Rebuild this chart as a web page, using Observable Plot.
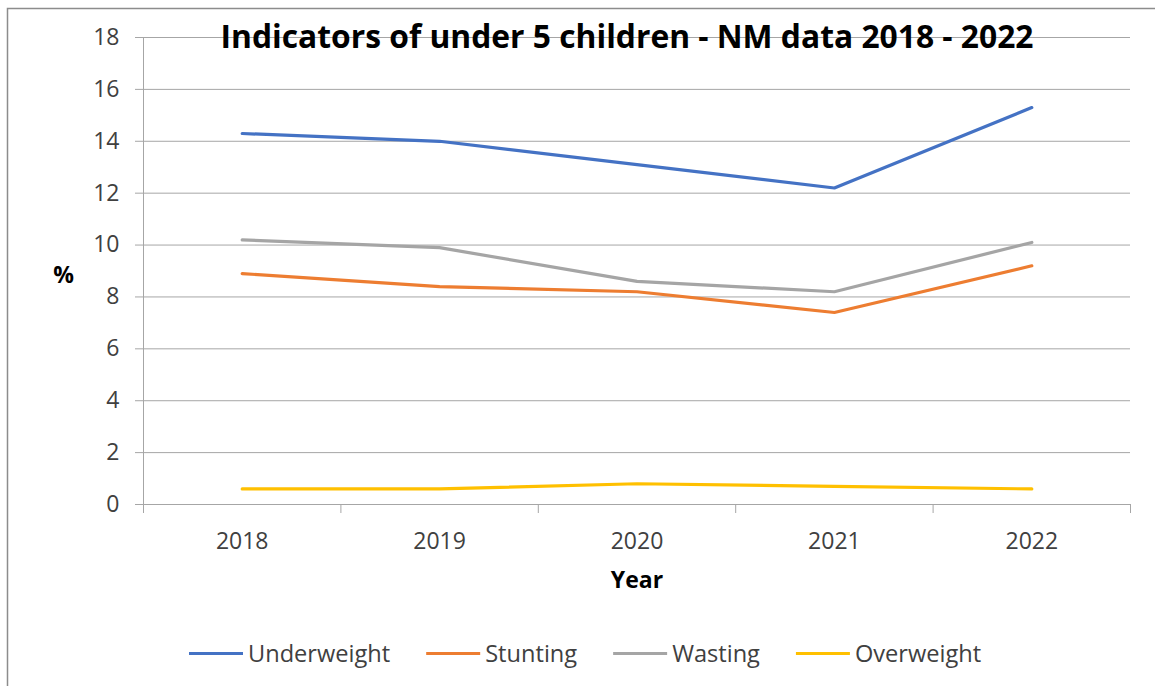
<!DOCTYPE html>
<html>
<head>
<meta charset="utf-8">
<script src="https://cdn.jsdelivr.net/npm/d3@7"></script>
<script src="https://cdn.jsdelivr.net/npm/@observablehq/plot@0.6"></script>
<style>
  html, body { margin: 0; padding: 0; background: #fff; }
  #wrap { position: relative; width: 1155px; height: 686px; overflow: hidden; font-family: "Open Sans", sans-serif; }
  #overlay { position: absolute; left: 0; top: 0; pointer-events: none; }
</style>
</head>
<body>
<div id="wrap"></div>
<script>
const titleText = "Indicators of under 5 children - NM data 2018 - 2022";
const years = [2018, 2019, 2020, 2021, 2022];
const seriesNames = ["Underweight", "Stunting", "Wasting", "Overweight"];
const seriesColors = ["#4472C4", "#ED7D31", "#A5A5A5", "#FFC000"];
const underweight = [14.3, 14.0, 13.1, 12.2, 15.3];
const stunting = [8.9, 8.4, 8.2, 7.4, 9.2];
const wasting = [10.2, 9.9, 8.6, 8.2, 10.1];
const overweight = [0.6, 0.6, 0.8, 0.7, 0.6];
const yTicks = [0, 2, 4, 6, 8, 10, 12, 14, 16, 18];
const xLabel = "Year";
const yLabel = "%";

const seriesValues = [underweight, stunting, wasting, overweight];
const data = [];
seriesNames.forEach((name, i) => {
  years.forEach((yr, j) => data.push({series: name, year: yr, value: seriesValues[i][j]}));
});
const boundaries = years.map(y => y - 0.5).concat([years[years.length - 1] + 0.5]);

const gridColor = "#A6A6A6";
const textColor = "#404040";

const chart = Plot.plot({
  width: 1155,
  height: 686,
  marginLeft: 143,
  marginRight: 25,
  marginTop: 37,
  marginBottom: 182,
  style: {fontFamily: "Open Sans, sans-serif", fontSize: "23px", background: "transparent", overflow: "visible"},
  x: {domain: [boundaries[0], boundaries[boundaries.length - 1]]},
  y: {domain: [0, 18]},
  color: {domain: seriesNames, range: seriesColors},
  marks: [
    Plot.gridY(yTicks, {stroke: gridColor, strokeOpacity: 1, strokeWidth: 1}),
    Plot.axisY(yTicks, {tickSize: 8, tickPadding: 16, stroke: gridColor, fill: textColor, fontSize: 23, label: null}),
    Plot.ruleX([boundaries[0]], {y1: 0, y2: 18, stroke: gridColor}),
    Plot.ruleY([0], {stroke: gridColor}),
    Plot.axisX(boundaries, {tickSize: 9, tickFormat: () => "", stroke: gridColor, label: null}),
    Plot.axisX(years, {tickSize: 0, tickPadding: 28, tickFormat: d => String(d), fill: textColor, fontSize: 23, label: null}),
    Plot.line(data, {x: "year", y: "value", z: "series", stroke: "series", strokeWidth: 3.2, curve: "linear"}),
    Plot.text([xLabel], {frameAnchor: "bottom", text: d => d, dy: 83, fontWeight: "bold", fontSize: 23, fill: "#000"}),
    Plot.text([yLabel], {frameAnchor: "left", text: d => d, dx: -80, dy: 5, fontWeight: "bold", fontSize: 23, fill: "#000", textAnchor: "middle"})
  ]
});

const wrap = document.getElementById("wrap");
wrap.appendChild(chart);

// overlay: border, title, legend
const ns = "http://www.w3.org/2000/svg";
const ov = document.createElementNS(ns, "svg");
ov.setAttribute("id", "overlay");
ov.setAttribute("width", 1155);
ov.setAttribute("height", 686);
ov.setAttribute("font-family", "Open Sans, sans-serif");
wrap.appendChild(ov);

const border = document.createElementNS(ns, "rect");
border.setAttribute("x", 7.5); border.setAttribute("y", 8.5);
border.setAttribute("width", 1200); border.setAttribute("height", 800);
border.setAttribute("fill", "none"); border.setAttribute("stroke", "#8C8C8C"); border.setAttribute("stroke-width", 1.5);
ov.appendChild(border);

const title = document.createElementNS(ns, "text");
title.setAttribute("x", 220.5); title.setAttribute("y", 48);
title.setAttribute("font-size", 32); title.setAttribute("font-weight", "bold");
title.setAttribute("fill", "#000");
title.setAttribute("textLength", 813); title.setAttribute("lengthAdjust", "spacingAndGlyphs");
title.textContent = titleText;
ov.appendChild(title);

let lx = 189;
const ly = 653.5;
seriesNames.forEach((name, i) => {
  const ln = document.createElementNS(ns, "line");
  ln.setAttribute("x1", lx); ln.setAttribute("x2", lx + 54);
  ln.setAttribute("y1", ly); ln.setAttribute("y2", ly);
  ln.setAttribute("stroke", seriesColors[i]); ln.setAttribute("stroke-width", 3);
  ov.appendChild(ln);
  const t = document.createElementNS(ns, "text");
  t.setAttribute("x", lx + 59); t.setAttribute("y", 661.5);
  t.setAttribute("font-size", 23.6); t.setAttribute("fill", textColor);
  t.textContent = name;
  ov.appendChild(t);
  const w = t.getComputedTextLength();
  lx = lx + 59 + w + 36;
});
</script>
</body>
</html>
